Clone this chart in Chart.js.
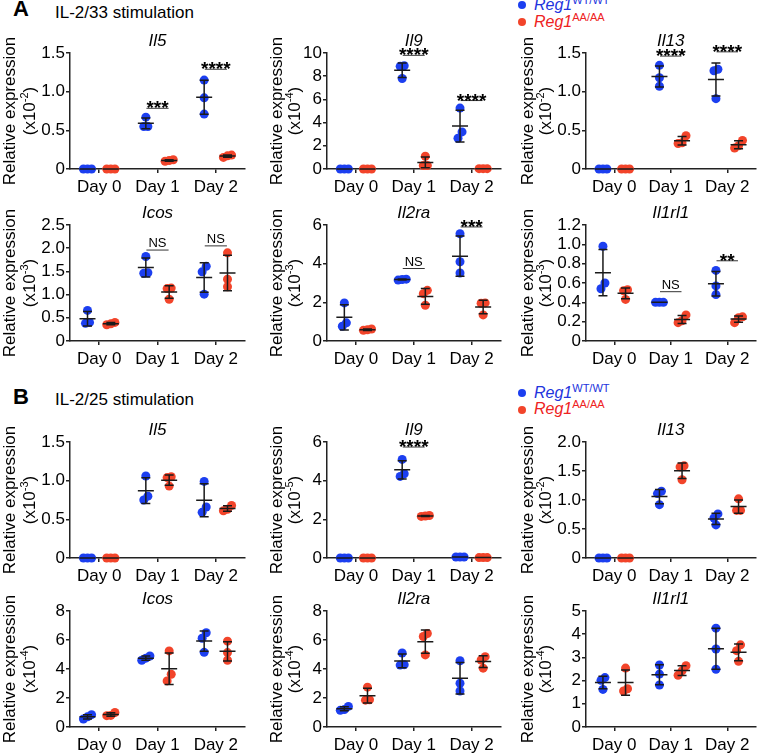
<!DOCTYPE html>
<html>
<head>
<meta charset="utf-8">
<title>Reg1 ILC2 gene expression</title>
<script src="https://cdn.jsdelivr.net/npm/chart.js@4.4.1/dist/chart.umd.min.js"></script>
<style>
  html, body { margin: 0; padding: 0; background: #fff; overflow: hidden; }
  #fig { position: relative; width: 760px; height: 754px; font-family: "Liberation Sans", Arial, sans-serif; color: #000; }
  #fig canvas { position: absolute; }
  .txt { position: absolute; white-space: nowrap; line-height: 17px; }
  .panel { font-size: 17px; }
  .letter { font-size: 22px; font-weight: bold; }
  .leg { font-size: 16px; font-style: italic; }
  .leg sup { font-size: 11px; font-style: normal; vertical-align: 0; position: relative; top: -6px; line-height: 0; }
  .dot { position: absolute; width: 8px; height: 8px; border-radius: 50%; }
</style>
</head>
<body>
<div id="fig">
  <div class="txt letter" style="left:13px; top:0px;">A</div>
  <div class="txt panel" style="left:55px; top:4px;">IL-2/33 stimulation</div>
  <div class="dot" style="left:518px; top:1px; background:#1c3ff0;"></div>
  <div class="txt leg" style="left:534px; top:-4px; color:#2233dd;">Reg1<sup>WT/WT</sup></div>
  <div class="dot" style="left:518px; top:18px; background:#f2442a;"></div>
  <div class="txt leg" style="left:534px; top:13px; color:#ee2222;">Reg1<sup>AA/AA</sup></div>

  <div class="txt letter" style="left:13px; top:388px;">B</div>
  <div class="txt panel" style="left:55px; top:391px;">IL-2/25 stimulation</div>
  <div class="dot" style="left:518px; top:389px; background:#1c3ff0;"></div>
  <div class="txt leg" style="left:534px; top:384px; color:#2233dd;">Reg1<sup>WT/WT</sup></div>
  <div class="dot" style="left:518px; top:406px; background:#f2442a;"></div>
  <div class="txt leg" style="left:534px; top:400px; color:#ee2222;">Reg1<sup>AA/AA</sup></div>
</div>
<script>
var days = ['Day 0', 'Day 1', 'Day 2'];
var genes = ['Il5', 'Il9', 'Il13', 'Icos', 'Il2ra', 'Il1rl1'];

// A: IL-2/33 stimulation, three replicates per day
var a_il5_wt = [[0, 0, 0], [0.67, 0.55, 0.55], [1.15, 0.92, 0.71]];
var a_il5_aa = [[0, 0, 0], [0.12, 0.10, 0.11], [0.18, 0.17, 0.15]];
var a_il9_wt = [[0, 0, 0], [8.9, 8.85, 7.8], [5.25, 3.2, 2.65]];
var a_il9_aa = [[0, 0, 0], [1.1, 0.3, 0.3], [0.03, 0.03, 0.03]];
var a_il13_wt = [[0, 0, 0], [1.34, 1.18, 1.07], [1.29, 1.27, 0.91]];
var a_il13_aa = [[0, 0, 0], [0.43, 0.34, 0.33], [0.37, 0.30, 0.27]];
var a_icos_wt = [[0.66, 0.38, 0.40], [1.82, 1.47, 1.46], [1.61, 1.49, 1.01]];
var a_icos_aa = [[0.40, 0.35, 0.37], [1.14, 1.13, 0.90], [1.90, 1.33, 1.17]];
var a_il2ra_wt = [[1.97, 0.94, 0.76], [3.2, 3.15, 3.18], [5.55, 4.1, 3.52]];
var a_il2ra_aa = [[0.62, 0.55, 0.58], [2.62, 2.45, 1.85], [1.97, 1.95, 1.35]];
var a_il1rl1_wt = [[0.98, 0.60, 0.54], [0.40, 0.40, 0.40], [0.73, 0.57, 0.48]];
var a_il1rl1_aa = [[0.53, 0.52, 0.43], [0.27, 0.21, 0.19], [0.25, 0.24, 0.19]];

// B: IL-2/25 stimulation
var b_il5_wt = [[0, 0, 0], [1.06, 0.80, 0.75], [0.99, 0.66, 0.59]];
var b_il5_aa = [[0, 0, 0], [1.05, 1.04, 0.93], [0.68, 0.63, 0.61]];
var b_il9_wt = [[0, 0, 0], [5.1, 4.36, 4.22], [0.05, 0.05, 0.05]];
var b_il9_aa = [[0, 0, 0], [2.2, 2.15, 2.17], [0.02, 0.02, 0.02]];
var b_il13_wt = [[0, 0, 0], [1.15, 1.11, 0.92], [0.76, 0.69, 0.57]];
var b_il13_aa = [[0, 0, 0], [1.59, 1.57, 1.35], [1.02, 0.82, 0.82]];
var b_icos_wt = [[0.85, 0.70, 0.55], [4.9, 4.75, 4.6], [6.5, 6.12, 5.15]];
var b_icos_aa = [[1.0, 0.80, 0.78], [5.25, 3.64, 3.18], [5.92, 5.13, 4.6]];
var b_il2ra_wt = [[1.42, 1.2, 1.15], [5.1, 4.3, 4.27], [4.57, 3.02, 2.48]];
var b_il2ra_aa = [[2.75, 1.88, 1.85], [6.45, 6.24, 4.97], [4.85, 4.62, 4.06]];
var b_il1rl1_wt = [[2.13, 2.01, 1.62], [2.67, 2.28, 1.81], [4.26, 3.36, 2.49]];
var b_il1rl1_aa = [[2.54, 1.65, 1.55], [2.64, 2.42, 2.23], [3.54, 3.29, 2.83]];

// y axes: max, step, exponent of the x10 factor
var a_max = [1.5, 10, 1.5, 2.5, 6, 1.2];
var a_step = [0.5, 2, 0.5, 0.5, 2, 0.2];
var a_exp = ['-2', '-4', '-2', '-3', '-3', '-3'];
var b_max = [1.5, 6, 2.0, 8, 8, 5];
var b_step = [0.5, 2, 0.5, 2, 2, 1];
var b_exp = ['-3', '-5', '-2', '-4', '-4', '-4'];

// significance marks per day and the height of their bar
var a_sig = [['', '***', '****'], ['', '****', '****'], ['', '****', '****'], ['', 'NS', 'NS'], ['', 'NS', '***'], ['', 'NS', '**']];
var a_sig_at = [[0, 0.785, 1.29], [0, 9.8, 5.9], [0, 1.46, 1.515], [0, 1.96, 2.05], [0, 3.75, 5.9], [0, 0.51, 0.83]];
var b_sig = [['', '', ''], ['', '****', ''], ['', '', ''], ['', '', ''], ['', '', ''], ['', '', '']];
var b_sig_at = [[0, 0, 0], [0, 5.74, 0], [0, 0, 0], [0, 0, 0], [0, 0, 0], [0, 0, 0]];

var BLUE = '#1c3ff0', RED = '#f2442a';
var FONT = '"Liberation Sans", Arial, sans-serif';
Chart.defaults.font.family = FONT;
Chart.defaults.color = '#000';

function mean(v) { return v.reduce(function (s, x) { return s + x; }, 0) / v.length; }
function sd(v) {
  var m = mean(v);
  return Math.sqrt(v.reduce(function (s, x) { return s + (x - m) * (x - m); }, 0) / (v.length - 1));
}

// spread overlapping replicates sideways, like a column scatter
function spread(vals, range) {
  var idx = vals.map(function (v, k) { return k; }).sort(function (a, b) { return vals[a] - vals[b]; });
  var off = vals.map(function () { return 0; });
  var groups = [], cur = [idx[0]];
  for (var k = 1; k < idx.length; k++) {
    if (vals[idx[k]] - vals[idx[k - 1]] < range * 0.06) cur.push(idx[k]);
    else { groups.push(cur); cur = [idx[k]]; }
  }
  groups.push(cur);
  groups.forEach(function (g) {
    g.forEach(function (k, m) { off[k] = (m - (g.length - 1) / 2) * 0.07; });
  });
  return off;
}

function points(groups, shift, range) {
  var out = [];
  groups.forEach(function (vals, i) {
    var off = spread(vals, range);
    vals.forEach(function (v, k) { out.push({ x: i + shift + off[k], y: v }); });
  });
  return out;
}

function decor(p) {
  return {
    id: 'decor',
    afterDatasetsDraw: function (chart) {
      var ctx = chart.ctx, xs = chart.scales.x, ys = chart.scales.y;
      ctx.save();
      ctx.strokeStyle = '#1a1a1a';
      ctx.lineWidth = 1.5;
      chart.data.datasets.forEach(function (ds) {
        ds.groups.forEach(function (vals, i) {
          var m = mean(vals), s = sd(vals);
          var cx = xs.getPixelForValue(i + ds.shift);
          var ym = ys.getPixelForValue(m);
          var yt = ys.getPixelForValue(m + s);
          var yb = ys.getPixelForValue(Math.max(m - s, 0));
          ctx.beginPath();
          ctx.moveTo(cx, yt); ctx.lineTo(cx, yb);
          ctx.moveTo(cx - 4.5, yt); ctx.lineTo(cx + 4.5, yt);
          ctx.moveTo(cx - 4.5, yb); ctx.lineTo(cx + 4.5, yb);
          ctx.moveTo(cx - 8, ym); ctx.lineTo(cx + 8, ym);
          ctx.stroke();
        });
      });
      ctx.restore();
    },
    afterDraw: function (chart) {
      var ctx = chart.ctx, a = chart.chartArea, xs = chart.scales.x, ys = chart.scales.y;
      ctx.save();
      ctx.fillStyle = '#000';
      ctx.textAlign = 'center';
      ctx.textBaseline = 'alphabetic';
      ctx.font = 'italic 17px ' + FONT;
      ctx.fillText(p.gene, (a.left + a.right) / 2, a.top - 7);

      p.sig.forEach(function (t, i) {
        if (!t) return;
        var x1 = xs.getPixelForValue(i - 0.19), x2 = xs.getPixelForValue(i + 0.19);
        var ly = ys.getPixelForValue(p.sigAt[i]);
        ctx.strokeStyle = '#333';
        ctx.lineWidth = 1;
        ctx.beginPath(); ctx.moveTo(x1, ly); ctx.lineTo(x2, ly); ctx.stroke();
        if (t === 'NS') { ctx.font = '13px ' + FONT; ctx.fillText(t, (x1 + x2) / 2, ly - 3); }
        else { ctx.font = 'bold 19px ' + FONT; ctx.fillText(t, (x1 + x2) / 2, ly + 6); }
      });

      // rotated y title with superscript exponent
      var cy = (a.top + a.bottom) / 2;
      ctx.translate(p.col.tb[0], cy);
      ctx.rotate(-Math.PI / 2);
      ctx.font = '17px ' + FONT;
      ctx.fillText('Relative expression', 0, 0);
      var dy = p.col.tb[1] - p.col.tb[0];
      var big = '17px ' + FONT, small = '11px ' + FONT;
      ctx.font = big;
      var w1 = ctx.measureText('(x10').width, w3 = ctx.measureText(')').width;
      ctx.font = small;
      var w2 = ctx.measureText(p.exp).width;
      var x0 = -(w1 + w2 + w3) / 2;
      ctx.textAlign = 'left';
      ctx.font = big; ctx.fillText('(x10', x0, dy);
      ctx.font = small; ctx.fillText(p.exp, x0 + w1, dy - 7);
      ctx.font = big; ctx.fillText(')', x0 + w1 + w2, dy);
      ctx.restore();
    }
  };
}

var cols = [
  { left: 0, w: 250, yw: 70, pr: 5, tb: [15, 35] },
  { left: 250, w: 255, yw: 77, pr: 3, tb: [32, 50] },
  { left: 505, w: 255, yw: 81, pr: 0, tb: [28, 46] }
];
var rowTops = [28, 200, 417, 586];
var H = 174;

var sets = [
  { wt: [a_il5_wt, a_il9_wt, a_il13_wt, a_icos_wt, a_il2ra_wt, a_il1rl1_wt],
    aa: [a_il5_aa, a_il9_aa, a_il13_aa, a_icos_aa, a_il2ra_aa, a_il1rl1_aa],
    max: a_max, step: a_step, exp: a_exp, sig: a_sig, sigAt: a_sig_at, row0: 0 },
  { wt: [b_il5_wt, b_il9_wt, b_il13_wt, b_icos_wt, b_il2ra_wt, b_il1rl1_wt],
    aa: [b_il5_aa, b_il9_aa, b_il13_aa, b_icos_aa, b_il2ra_aa, b_il1rl1_aa],
    max: b_max, step: b_step, exp: b_exp, sig: b_sig, sigAt: b_sig_at, row0: 2 }
];

var fig = document.getElementById('fig');

sets.forEach(function (set) {
  genes.forEach(function (gene, g) {
    var col = cols[g % 3];
    var top = rowTops[set.row0 + Math.floor(g / 3)];
    var max = set.max[g], step = set.step[g];
    var dec = step < 1 ? 1 : 0;
    var p = { gene: gene, col: col, exp: set.exp[g], sig: set.sig[g], sigAt: set.sigAt[g] };

    var c = document.createElement('canvas');
    c.width = col.w;
    c.height = H;
    c.style.left = col.left + 'px';
    c.style.top = top + 'px';
    fig.appendChild(c);

    new Chart(c, {
      type: 'scatter',
      data: {
        datasets: [
          { label: 'Reg1 WT/WT', data: points(set.wt[g], -0.2, max), groups: set.wt[g], shift: -0.2,
            backgroundColor: BLUE, borderColor: BLUE, pointRadius: 4.5, borderWidth: 0, clip: false },
          { label: 'Reg1 AA/AA', data: points(set.aa[g], 0.2, max), groups: set.aa[g], shift: 0.2,
            backgroundColor: RED, borderColor: RED, pointRadius: 4.5, borderWidth: 0, clip: false }
        ]
      },
      options: {
        responsive: false,
        animation: false,
        devicePixelRatio: 1,
        layout: { padding: { top: 25, right: col.pr, left: 0, bottom: 0 } },
        plugins: { legend: { display: false }, tooltip: { enabled: false } },
        scales: {
          x: {
            type: 'linear', min: -0.5, max: 2.5,
            afterBuildTicks: function (s) { s.ticks = days.map(function (d, i) { return { value: i }; }); },
            afterFit: function (s) { s.height = 33; },
            ticks: { callback: function (v) { return days[v]; }, font: { size: 17 }, padding: 4,
                     autoSkip: false, maxRotation: 0, color: '#000' },
            grid: { drawOnChartArea: false, drawTicks: true, tickLength: 4, color: '#222', lineWidth: 1.5 },
            border: { color: '#222', width: 1.5 }
          },
          y: {
            min: 0, max: max,
            afterFit: function (s) { s.width = col.yw; },
            ticks: { stepSize: step, font: { size: 17 }, padding: 1, color: '#000', autoSkip: false,
                     callback: function (v) { return v === 0 ? '0' : v.toFixed(dec); } },
            grid: { drawOnChartArea: false, drawTicks: true, tickLength: 4, color: '#222', lineWidth: 1.5 },
            border: { color: '#222', width: 1.5 }
          }
        }
      },
      plugins: [decor(p)]
    });
  });
});
</script>
</body>
</html>
